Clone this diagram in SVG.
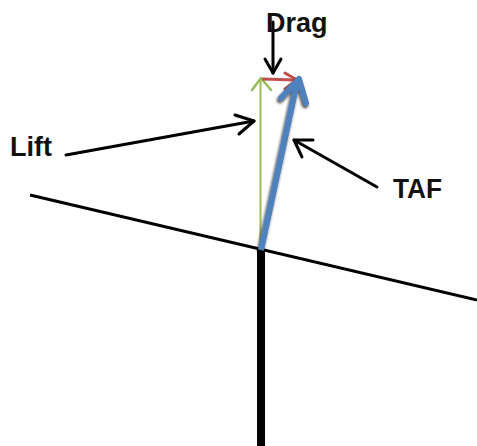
<svg xmlns="http://www.w3.org/2000/svg" width="477" height="446" viewBox="0 0 477 446">
  <style>
    .lbl { font-family: "Liberation Sans", Arial, sans-serif; font-weight: bold; font-size: 27px; fill: #111; }
    .ptr { fill: none; stroke: #000; stroke-width: 3; stroke-linecap: round; stroke-linejoin: round; }
  </style>
  <defs>
    <filter id="shadow" x="-50%" y="-50%" width="200%" height="200%">
      <feGaussianBlur in="SourceAlpha" stdDeviation="1.5"/>
      <feOffset dx="-1.5" dy="2" result="b"/>
      <feComponentTransfer><feFuncA type="linear" slope="0.8"/></feComponentTransfer>
      <feMerge><feMergeNode/><feMergeNode in="SourceGraphic"/></feMerge>
    </filter>
  </defs>
  <rect width="477" height="446" fill="#fff"/>

  <g id="structure">
    <line x1="30" y1="195" x2="477" y2="300" stroke="#000" stroke-width="3"/>
    <line x1="261" y1="249" x2="261" y2="446" stroke="#000" stroke-width="8"/>
  </g>

  <g id="vectors">
    <g id="lift-vector">
      <line x1="260.5" y1="250" x2="260.5" y2="79" stroke="#9bbb59" stroke-width="2"/>
      <polyline points="252,90 261,78 271,90" fill="none" stroke="#9bbb59" stroke-width="2.5" stroke-linecap="round" stroke-linejoin="round"/>
    </g>
    <g id="drag-vector">
      <line x1="262" y1="79" x2="296" y2="80" stroke="#c0504d" stroke-width="3"/>
      <polyline points="285,73 297,80 285,89" fill="none" stroke="#c0504d" stroke-width="3" stroke-linecap="round" stroke-linejoin="round"/>
    </g>
    <g id="taf-vector" filter="url(#shadow)">
      <line x1="261" y1="250" x2="297" y2="82" stroke="#4f81bd" stroke-width="6"/>
      <polyline points="281,98 299,79 306,103" fill="none" stroke="#4f81bd" stroke-width="6" stroke-linecap="round" stroke-linejoin="round"/>
    </g>
  </g>

  <g id="connectors">
    <g id="drag-pointer">
      <line class="ptr" x1="273" y1="22" x2="273" y2="73"/>
      <polyline class="ptr" points="265,59 273,73 281,59"/>
    </g>
    <g id="lift-pointer">
      <line class="ptr" x1="66" y1="155" x2="254" y2="121"/>
      <polyline class="ptr" points="235,115 254,121 239,134"/>
    </g>
    <g id="taf-pointer">
      <line class="ptr" x1="377" y1="187" x2="294" y2="140"/>
      <polyline class="ptr" points="313,140 294,140 302,157"/>
    </g>
  </g>

  <g id="node-drag"><text class="lbl" x="266" y="32">Drag</text></g>
  <g id="node-lift"><text class="lbl" x="10" y="156">Lift</text></g>
  <g id="node-taf"><text class="lbl" x="393" y="198" textLength="49" lengthAdjust="spacingAndGlyphs">TAF</text></g>
</svg>
